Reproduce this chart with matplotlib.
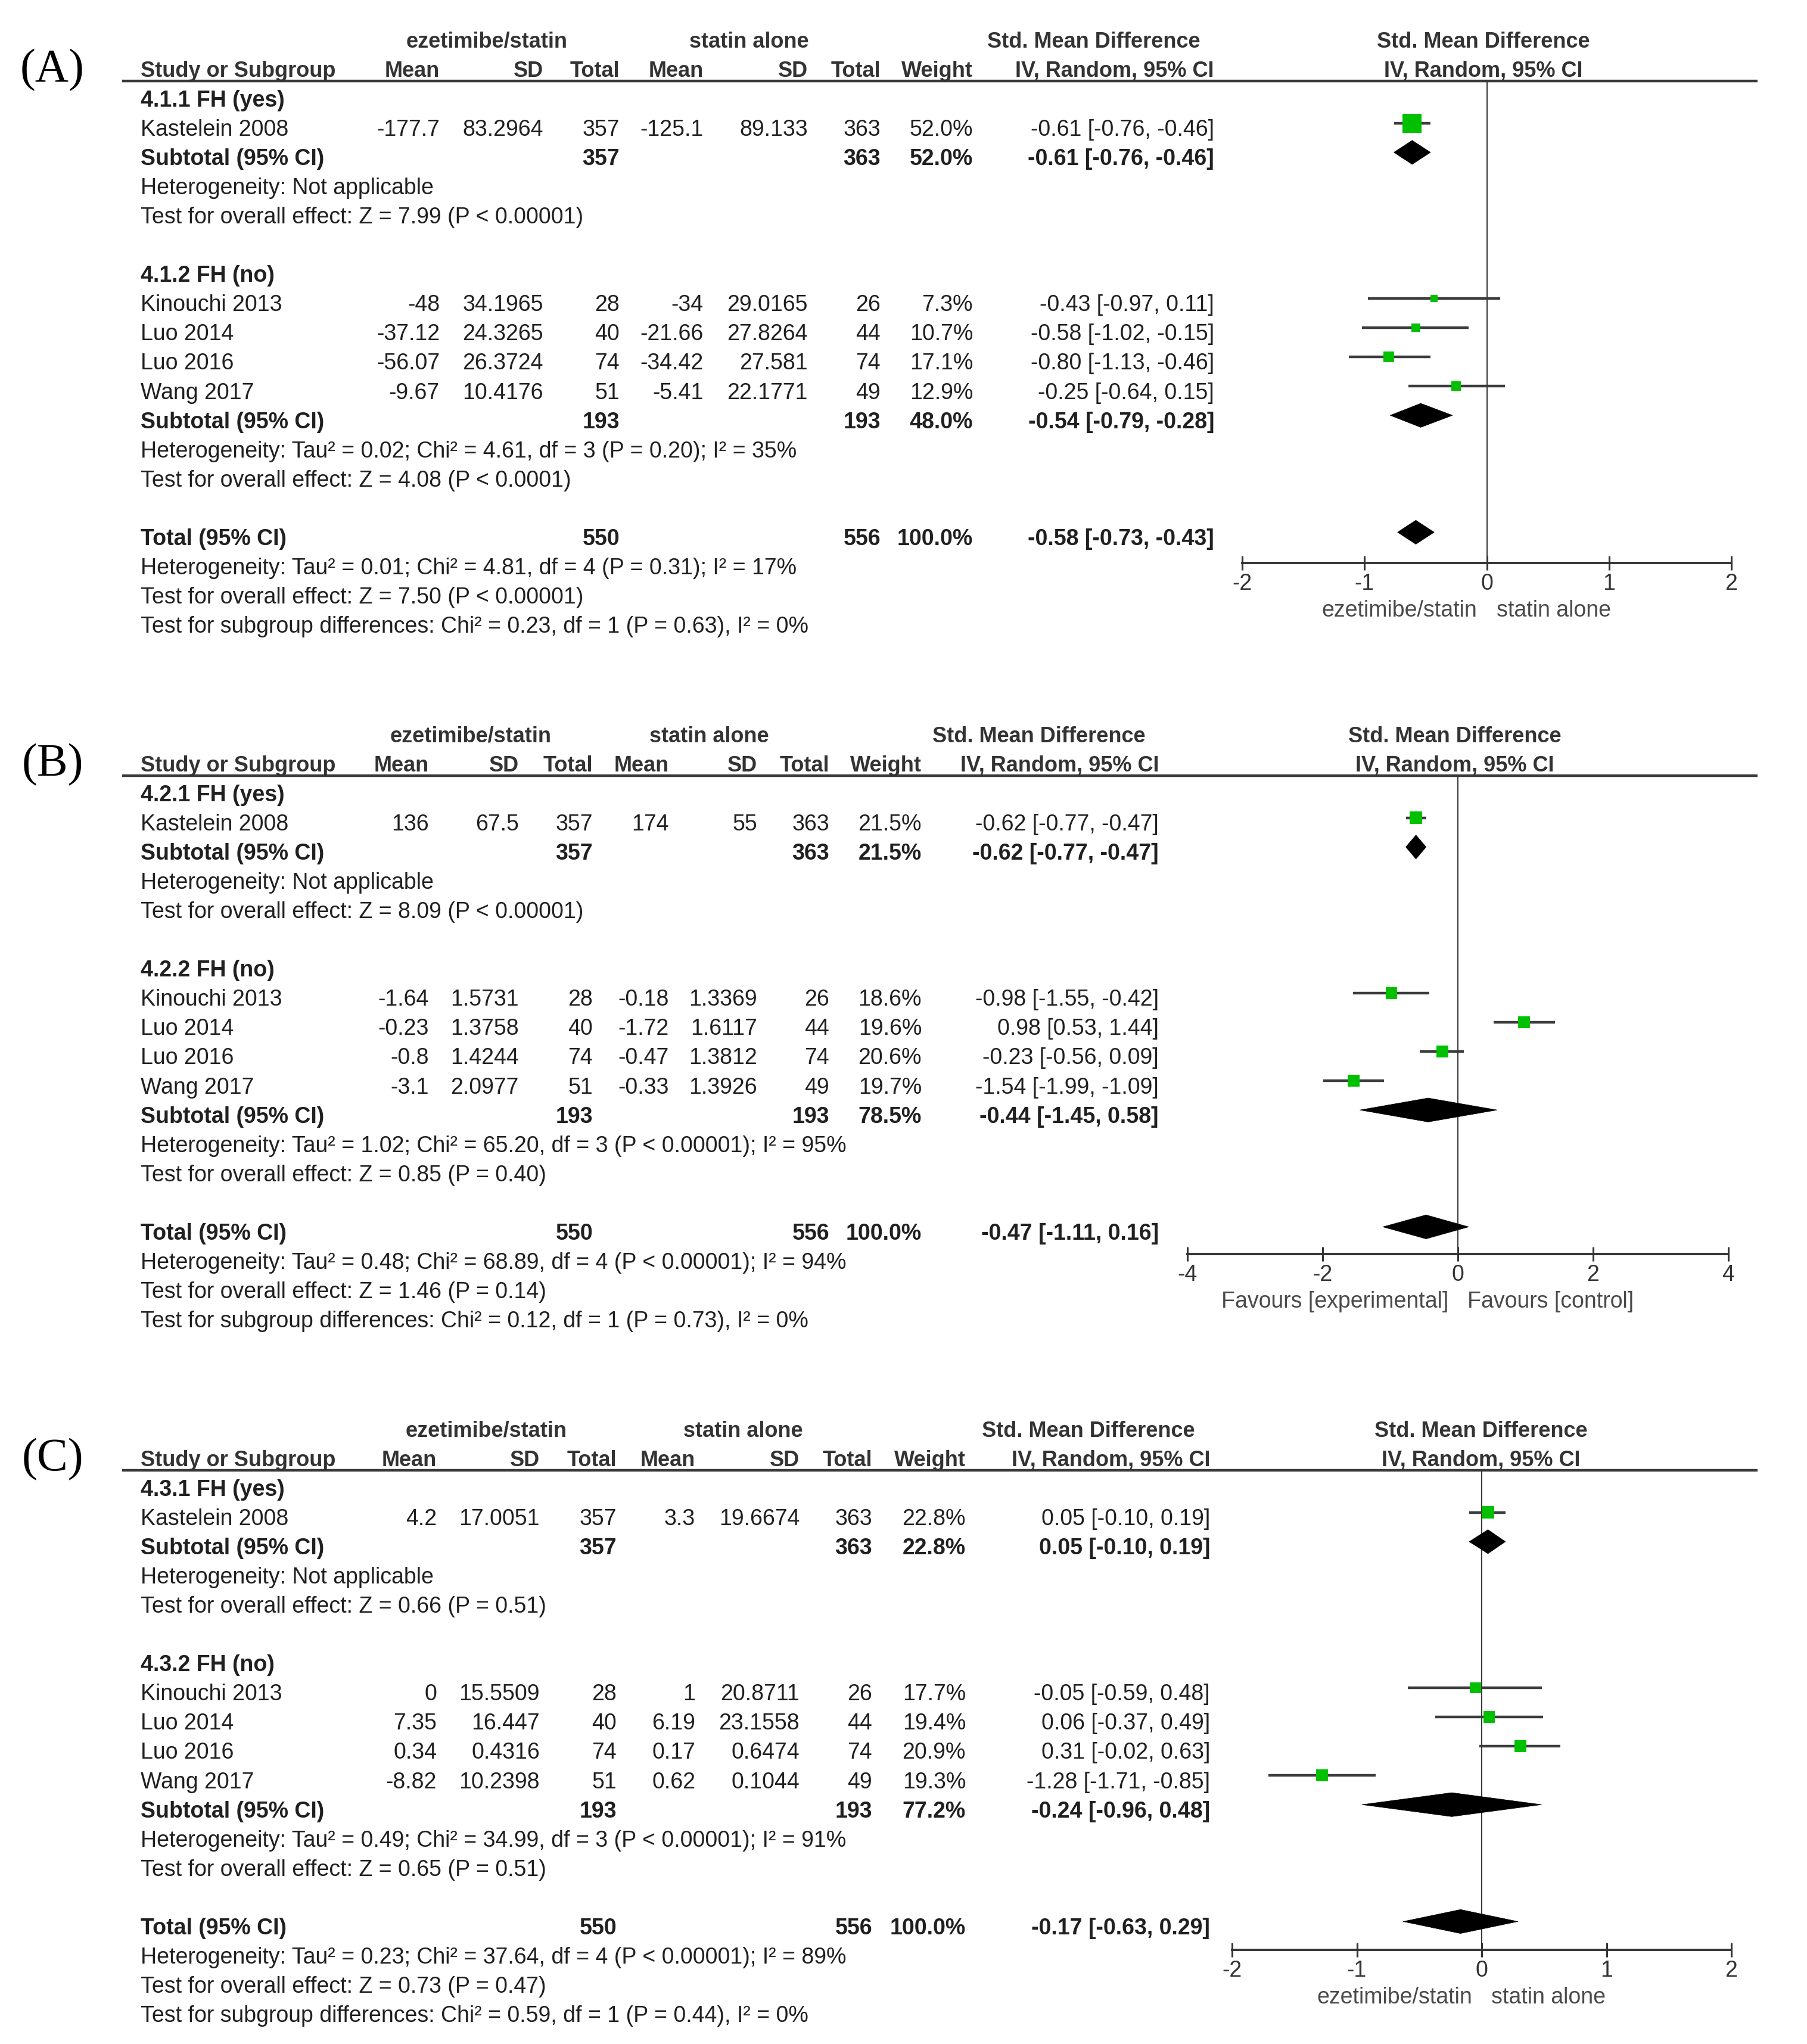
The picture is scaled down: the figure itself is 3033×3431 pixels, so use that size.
import matplotlib
matplotlib.use("Agg")
import matplotlib.pyplot as plt
from matplotlib.patches import Polygon
from matplotlib.transforms import offset_copy

# Canvas in pixels (dpi 100)
W, H = 3033, 3431
ROW = 49.05          # pixel height of one table row
FS = 27              # body font size
HFS = 26             # header font size
TXT = "#202020"
plt.rcParams["font.family"] = ["Liberation Sans", "DejaVu Sans"]

STUDIES = ["Kastelein 2008", "Kinouchi 2013", "Luo 2014", "Luo 2016", "Wang 2017"]
HEAD2 = ["Mean", "SD", "Total", "Mean", "SD", "Total", "Weight", "IV, Random, 95% CI"]

# ---- (A) ----
a_groups = ["4.1.1 FH (yes)", "4.1.2 FH (no)"]
a_exp_mean = [-177.7, -48, -37.12, -56.07, -9.67]
a_exp_sd = [83.2964, 34.1965, 24.3265, 26.3724, 10.4176]
a_exp_n = [357, 28, 40, 74, 51]
a_ctl_mean = [-125.1, -34, -21.66, -34.42, -5.41]
a_ctl_sd = [89.133, 29.0165, 27.8264, 27.581, 22.1771]
a_ctl_n = [363, 26, 44, 74, 49]
a_weight = [52.0, 7.3, 10.7, 17.1, 12.9]
a_smd = [-0.61, -0.43, -0.58, -0.80, -0.25]
a_lo = [-0.76, -0.97, -1.02, -1.13, -0.64]
a_hi = [-0.46, 0.11, -0.15, -0.46, 0.15]
a_sub_n = [(357, 363), (193, 193)]
a_sub_weight = [52.0, 48.0]
a_sub_smd = [-0.61, -0.54]
a_sub_lo = [-0.76, -0.79]
a_sub_hi = [-0.46, -0.28]
a_total = (-0.58, -0.73, -0.43)
a_notes = [
    "Heterogeneity: Not applicable",
    "Test for overall effect: Z = 7.99 (P < 0.00001)",
    "Heterogeneity: Tau² = 0.02; Chi² = 4.61, df = 3 (P = 0.20); I² = 35%",
    "Test for overall effect: Z = 4.08 (P < 0.0001)",
    "Heterogeneity: Tau² = 0.01; Chi² = 4.81, df = 4 (P = 0.31); I² = 17%",
    "Test for overall effect: Z = 7.50 (P < 0.00001)",
    "Test for subgroup differences: Chi² = 0.23, df = 1 (P = 0.63), I² = 0%",
]
a_favours = ["ezetimibe/statin", "statin alone"]

# ---- (B) ----
b_groups = ["4.2.1 FH (yes)", "4.2.2 FH (no)"]
b_exp_mean = [136, -1.64, -0.23, -0.8, -3.1]
b_exp_sd = [67.5, 1.5731, 1.3758, 1.4244, 2.0977]
b_exp_n = [357, 28, 40, 74, 51]
b_ctl_mean = [174, -0.18, -1.72, -0.47, -0.33]
b_ctl_sd = [55, 1.3369, 1.6117, 1.3812, 1.3926]
b_ctl_n = [363, 26, 44, 74, 49]
b_weight = [21.5, 18.6, 19.6, 20.6, 19.7]
b_smd = [-0.62, -0.98, 0.98, -0.23, -1.54]
b_lo = [-0.77, -1.55, 0.53, -0.56, -1.99]
b_hi = [-0.47, -0.42, 1.44, 0.09, -1.09]
b_sub_n = [(357, 363), (193, 193)]
b_sub_weight = [21.5, 78.5]
b_sub_smd = [-0.62, -0.44]
b_sub_lo = [-0.77, -1.45]
b_sub_hi = [-0.47, 0.58]
b_total = (-0.47, -1.11, 0.16)
b_notes = [
    "Heterogeneity: Not applicable",
    "Test for overall effect: Z = 8.09 (P < 0.00001)",
    "Heterogeneity: Tau² = 1.02; Chi² = 65.20, df = 3 (P < 0.00001); I² = 95%",
    "Test for overall effect: Z = 0.85 (P = 0.40)",
    "Heterogeneity: Tau² = 0.48; Chi² = 68.89, df = 4 (P < 0.00001); I² = 94%",
    "Test for overall effect: Z = 1.46 (P = 0.14)",
    "Test for subgroup differences: Chi² = 0.12, df = 1 (P = 0.73), I² = 0%",
]
b_favours = ["Favours [experimental]", "Favours [control]"]

# ---- (C) ----
c_groups = ["4.3.1 FH (yes)", "4.3.2 FH (no)"]
c_exp_mean = [4.2, 0, 7.35, 0.34, -8.82]
c_exp_sd = [17.0051, 15.5509, 16.447, 0.4316, 10.2398]
c_exp_n = [357, 28, 40, 74, 51]
c_ctl_mean = [3.3, 1, 6.19, 0.17, 0.62]
c_ctl_sd = [19.6674, 20.8711, 23.1558, 0.6474, 0.1044]
c_ctl_n = [363, 26, 44, 74, 49]
c_weight = [22.8, 17.7, 19.4, 20.9, 19.3]
c_smd = [0.05, -0.05, 0.06, 0.31, -1.28]
c_lo = [-0.10, -0.59, -0.37, -0.02, -1.71]
c_hi = [0.19, 0.48, 0.49, 0.63, -0.85]
c_sub_n = [(357, 363), (193, 193)]
c_sub_weight = [22.8, 77.2]
c_sub_smd = [0.05, -0.24]
c_sub_lo = [-0.10, -0.96]
c_sub_hi = [0.19, 0.48]
c_total = (-0.17, -0.63, 0.29)
c_notes = [
    "Heterogeneity: Not applicable",
    "Test for overall effect: Z = 0.66 (P = 0.51)",
    "Heterogeneity: Tau² = 0.49; Chi² = 34.99, df = 3 (P < 0.00001); I² = 91%",
    "Test for overall effect: Z = 0.65 (P = 0.51)",
    "Heterogeneity: Tau² = 0.23; Chi² = 37.64, df = 4 (P < 0.00001); I² = 89%",
    "Test for overall effect: Z = 0.73 (P = 0.47)",
    "Test for subgroup differences: Chi² = 0.59, df = 1 (P = 0.44), I² = 0%",
]
c_favours = ["ezetimibe/statin", "statin alone"]

TOTAL_N = (550, 556)


def panel(groups, em, es, en, cm, cs, cn, w, smd, lo, hi,
          sub_n, sub_w, sub_smd, sub_lo, sub_hi, total, notes, favours):
    return dict(groups=groups, em=em, es=es, en=en, cm=cm, cs=cs, cn=cn, w=w,
                smd=smd, lo=lo, hi=hi, sub_n=sub_n, sub_w=sub_w, sub_smd=sub_smd,
                sub_lo=sub_lo, sub_hi=sub_hi, total=total, notes=notes, favours=favours)


PANELS = [
    (panel(a_groups, a_exp_mean, a_exp_sd, a_exp_n, a_ctl_mean, a_ctl_sd, a_ctl_n, a_weight,
           a_smd, a_lo, a_hi, a_sub_n, a_sub_weight, a_sub_smd, a_sub_lo, a_sub_hi,
           a_total, a_notes, a_favours),
     dict(tag="(A)", line=136, axis=945, xlim=(-2, 2), ticks=[-2, -1, 0, 1, 2], px=(2085, 2906),
          cols=[738, 912, 1040, 1181, 1356, 1478, 1633, 2038], hdr=[817, 1257, 1836, 2490])),
    (panel(b_groups, b_exp_mean, b_exp_sd, b_exp_n, b_ctl_mean, b_ctl_sd, b_ctl_n, b_weight,
           b_smd, b_lo, b_hi, b_sub_n, b_sub_weight, b_sub_smd, b_sub_lo, b_sub_hi,
           b_total, b_notes, b_favours),
     dict(tag="(B)", line=1302, axis=2105, xlim=(-4, 4), ticks=[-4, -2, 0, 2, 4], px=(1993, 2901),
          cols=[720, 871, 995, 1123, 1271, 1392, 1547, 1945], hdr=[790, 1190, 1744, 2442])),
    (panel(c_groups, c_exp_mean, c_exp_sd, c_exp_n, c_ctl_mean, c_ctl_sd, c_ctl_n, c_weight,
           c_smd, c_lo, c_hi, c_sub_n, c_sub_weight, c_sub_smd, c_sub_lo, c_sub_hi,
           c_total, c_notes, c_favours),
     dict(tag="(C)", line=2468, axis=3273, xlim=(-2, 2), ticks=[-2, -1, 0, 1, 2], px=(2068, 2906),
          cols=[733, 906, 1035, 1167, 1342, 1464, 1621, 2031], hdr=[816, 1247, 1827, 2486])),
]

STUDY_ROWS = [1, 7, 8, 9, 10]
SUB_ROWS = [2, 11]
GROUP_ROWS = [0, 6]
NOTE_ROWS = [3, 4, 12, 13, 16, 17, 18]
TOTAL_ROW = 15
LABEL_X = 236


def ci_text(e, l, h):
    return f"{e:.2f} [{l:.2f}, {h:.2f}]"


fig = plt.figure(figsize=(W / 100, H / 100), dpi=100)
tx = fig.add_axes([0, 0, 1, 1])
tx.set_xlim(0, W)
tx.set_ylim(H, 0)
tx.axis("off")

for d, g in PANELS:
    line = g["line"]
    cols = g["cols"]

    def row_y(i):
        return line + 30 + ROW * i

    def put(x, i, s, ha="left", bold=False):
        tx.text(x, row_y(i) + 13, s, ha=ha, va="baseline", fontsize=FS,
                fontweight="bold" if bold else "normal", color=TXT)

    # panel tag
    tx.text(88, line, g["tag"], ha="center", va="baseline", fontsize=56,
            family=["Liberation Serif", "DejaVu Serif"], color="black")

    # header
    hy1 = line - 69 + 13
    hy2 = line - 20 + 13
    for x, s in zip(g["hdr"], ["ezetimibe/statin", "statin alone",
                               "Std. Mean Difference", "Std. Mean Difference"]):
        tx.text(x, hy1, s, ha="center", va="baseline", fontsize=HFS, fontweight="bold", color="#333333")
    tx.text(LABEL_X, hy2, "Study or Subgroup", ha="left", va="baseline", fontsize=HFS,
            fontweight="bold", color="#333333")
    for x, s in zip(cols, HEAD2):
        tx.text(x, hy2, s, ha="right", va="baseline", fontsize=HFS, fontweight="bold", color="#333333")
    tx.text(g["hdr"][3], hy2, "IV, Random, 95% CI", ha="center", va="baseline", fontsize=HFS,
            fontweight="bold", color="#333333")
    tx.plot([205, 2950], [line, line], color="#3a3a3a", lw=3.2, solid_capstyle="butt")

    # table body
    for i, name in zip(GROUP_ROWS, d["groups"]):
        put(LABEL_X, i, name, bold=True)
    for k, i in enumerate(STUDY_ROWS):
        put(LABEL_X, i, STUDIES[k])
        vals = [f"{d['em'][k]:g}", f"{d['es'][k]:g}", str(d["en"][k]),
                f"{d['cm'][k]:g}", f"{d['cs'][k]:g}", str(d["cn"][k]),
                f"{d['w'][k]:.1f}%", ci_text(d["smd"][k], d["lo"][k], d["hi"][k])]
        for x, s in zip(cols, vals):
            put(x, i, s, ha="right")
    for k, i in enumerate(SUB_ROWS):
        put(LABEL_X, i, "Subtotal (95% CI)", bold=True)
        put(cols[2], i, str(d["sub_n"][k][0]), ha="right", bold=True)
        put(cols[5], i, str(d["sub_n"][k][1]), ha="right", bold=True)
        put(cols[6], i, f"{d['sub_w'][k]:.1f}%", ha="right", bold=True)
        put(cols[7], i, ci_text(d["sub_smd"][k], d["sub_lo"][k], d["sub_hi"][k]), ha="right", bold=True)
    put(LABEL_X, TOTAL_ROW, "Total (95% CI)", bold=True)
    put(cols[2], TOTAL_ROW, str(TOTAL_N[0]), ha="right", bold=True)
    put(cols[5], TOTAL_ROW, str(TOTAL_N[1]), ha="right", bold=True)
    put(cols[6], TOTAL_ROW, "100.0%", ha="right", bold=True)
    put(cols[7], TOTAL_ROW, ci_text(*d["total"]), ha="right", bold=True)
    for i, s in zip(NOTE_ROWS, d["notes"]):
        put(LABEL_X, i, s)

    # forest plot
    x0, x1 = g["px"]
    ax = fig.add_axes([x0 / W, 1 - g["axis"] / H, (x1 - x0) / W, (g["axis"] - line) / H])
    ax.set_xlim(*g["xlim"])
    ax.set_ylim((g["axis"] - line - 30) / ROW, -30 / ROW)
    ax.patch.set_alpha(0)
    for s in ["top", "left", "right"]:
        ax.spines[s].set_visible(False)
    ax.spines["bottom"].set_linewidth(2.8)
    ax.spines["bottom"].set_color("#333333")
    ax.set_yticks([])
    ax.set_xticks(g["ticks"])
    ax.set_xticklabels([f"{t:g}" for t in g["ticks"]])
    ax.tick_params(axis="x", direction="inout", length=17, width=2.2, colors="#333333",
                   labelsize=FS, pad=4)
    ax.axvline(0, color="#333333", lw=1.4, zorder=1)

    up = 0.17
    half = 0.41
    ys = [i - up for i in STUDY_ROWS]
    ax.hlines(ys, d["lo"], d["hi"], color="#3c3c3c", lw=3.2, zorder=2)
    ax.scatter(d["smd"], ys, marker="s", s=[(4.44 * w ** 0.5 * 0.72) ** 2 for w in d["w"]],
               color="#00c000", linewidths=0, zorder=3)
    dia = [(d["sub_smd"][k], d["sub_lo"][k], d["sub_hi"][k], SUB_ROWS[k] - up) for k in range(2)]
    dia.append((d["total"][0], d["total"][1], d["total"][2], TOTAL_ROW - up))
    for e, l, h, y in dia:
        ax.add_patch(Polygon([(l, y), (e, y - half), (h, y), (e, y + half)], closed=True,
                             facecolor="black", edgecolor="black", lw=0.5, zorder=3))

    tr = ax.get_xaxis_transform()
    ax.text(0, 0, d["favours"][0], ha="right", va="center", fontsize=FS, color="#4a4a4a",
            transform=offset_copy(tr, fig=fig, x=-16, y=-80, units="dots"))
    ax.text(0, 0, d["favours"][1], ha="left", va="center", fontsize=FS, color="#4a4a4a",
            transform=offset_copy(tr, fig=fig, x=16, y=-80, units="dots"))

fig.savefig("out.png", dpi=100)
